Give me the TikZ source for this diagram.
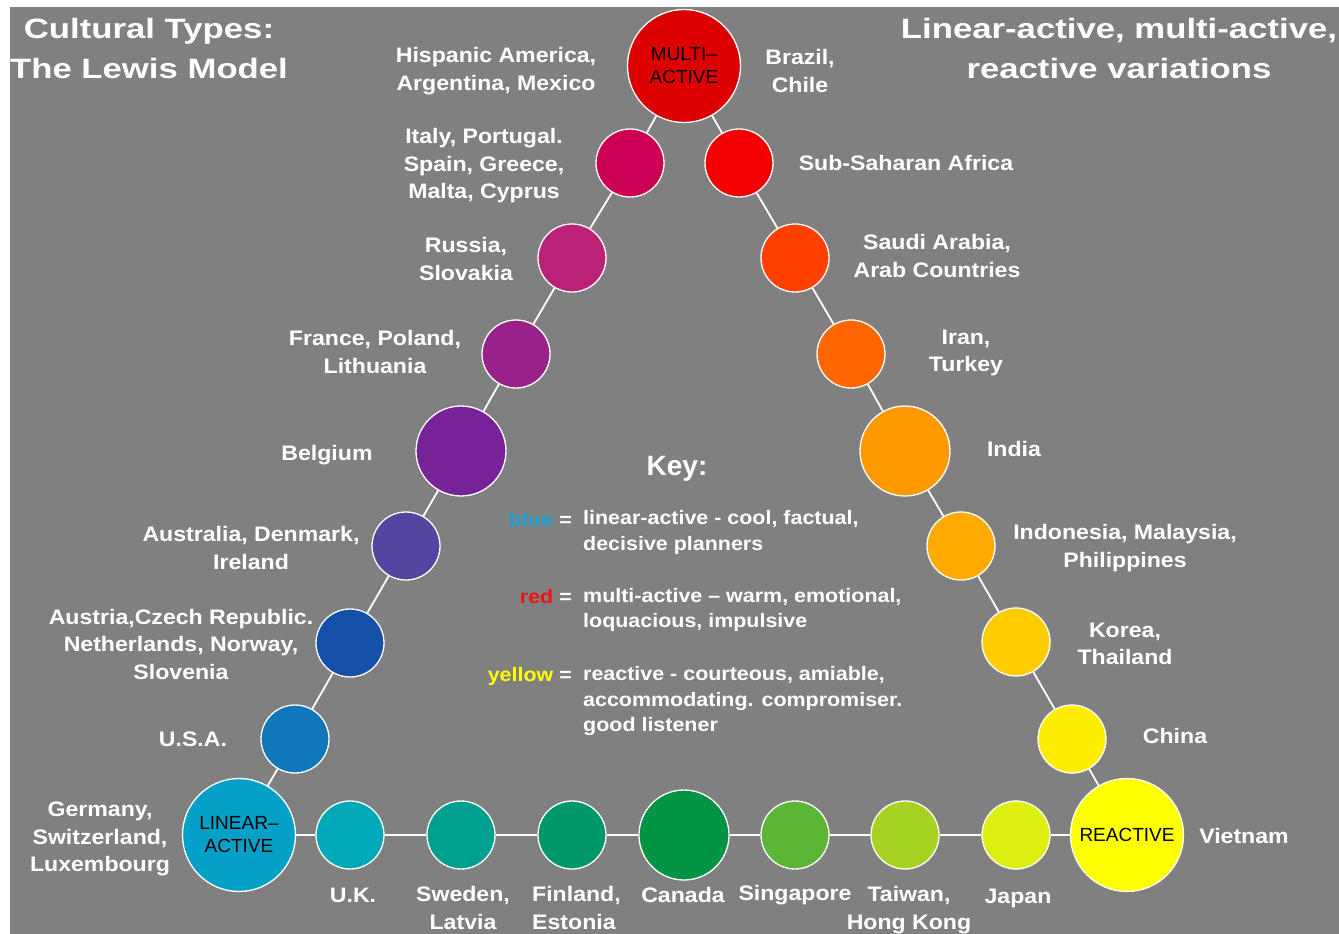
\documentclass[tikz,border=0pt]{standalone}
\usepackage{fontspec}
\setmainfont{Liberation Sans}
\newfontfamily\labfont[FakeStretch=1.1]{Liberation Sans}
\newfontfamily\titfont[FakeStretch=1.24]{Liberation Sans}
\newfontfamily\keyfont[FakeStretch=1.0]{Liberation Sans}
\definecolor{bggray}{HTML}{808080}
\definecolor{cMulti}{HTML}{DD0000}
\definecolor{cItaly}{HTML}{CC0055}
\definecolor{cSubSah}{HTML}{F50000}
\definecolor{cRussia}{HTML}{BB2277}
\definecolor{cSaudi}{HTML}{FF4000}
\definecolor{cFrance}{HTML}{992288}
\definecolor{cIran}{HTML}{FF6600}
\definecolor{cBelgium}{HTML}{772299}
\definecolor{cIndia}{HTML}{FF9900}
\definecolor{cAustralia}{HTML}{5544A0}
\definecolor{cIndonesia}{HTML}{FFAA00}
\definecolor{cAustria}{HTML}{1450A8}
\definecolor{cKorea}{HTML}{FFCC00}
\definecolor{cUSA}{HTML}{1077BB}
\definecolor{cChina}{HTML}{FFEE00}
\definecolor{cLinear}{HTML}{05A0C8}
\definecolor{cUK}{HTML}{00A8B8}
\definecolor{cSweden}{HTML}{00A090}
\definecolor{cFinland}{HTML}{00986A}
\definecolor{cCanada}{HTML}{009444}
\definecolor{cSingapore}{HTML}{5DB535}
\definecolor{cTaiwan}{HTML}{A6D322}
\definecolor{cJapan}{HTML}{DDEE11}
\definecolor{cReactive}{HTML}{FFFF00}
\definecolor{keyblue}{HTML}{1AA0D0}
\definecolor{keyred}{HTML}{EE1111}
\definecolor{keyyellow}{HTML}{FFFF00}
\begin{document}
\begin{tikzpicture}[x=1pt,y=-1pt,
  dot/.style={circle,draw=white,line width=1.3pt,inner sep=0pt,minimum size=68pt},
  middot/.style={dot,minimum size=90pt},
  bigdot/.style={dot,minimum size=113pt},
  lab/.style={text=white,align=center,inner sep=0pt,yshift=-2pt,font=\labfont\bfseries\fontsize{21}{27.5}\selectfont},
  tit/.style={text=white,align=center,inner sep=0pt,font=\titfont\bfseries\fontsize{28}{40}\selectfont},
  ctext/.style={font=\fontsize{19}{23}\selectfont,text=black,align=center},
  keytxt/.style={text=white,align=left,inner sep=0pt,yshift=-2pt,font=\labfont\bfseries\fontsize{19.5}{25.5}\selectfont},
  keyhead/.style={text=white,inner sep=0pt,yshift=-1pt,font=\keyfont\bfseries\fontsize{28}{32}\selectfont},
  link/.style={draw=white,line width=1.8pt}]
\useasboundingbox (0,0) rectangle (1339,934);
\fill[white] (0,0) rectangle (1339,934);
\fill[bggray] (10,7) rectangle (1339,934);

% circles
\node[bigdot,fill=cMulti,ctext] (m) at (684,66) {MULTI–\\ACTIVE};
\node[dot,fill=cItaly] (it) at (630,163) {};
\node[dot,fill=cSubSah] (ss) at (739,163) {};
\node[dot,fill=cRussia] (ru) at (572,258) {};
\node[dot,fill=cSaudi] (sa) at (795,258) {};
\node[dot,fill=cFrance] (fr) at (516,354) {};
\node[dot,fill=cIran] (ir) at (851,354) {};
\node[middot,fill=cBelgium] (be) at (461,451) {};
\node[middot,fill=cIndia] (in) at (905,451) {};
\node[dot,fill=cAustralia] (au) at (406,546) {};
\node[dot,fill=cIndonesia] (id) at (961,546) {};
\node[dot,fill=cAustria] (at) at (350,643) {};
\node[dot,fill=cKorea] (ko) at (1016,642) {};
\node[dot,fill=cUSA] (us) at (295,739) {};
\node[dot,fill=cChina] (cn) at (1072,739) {};
\node[bigdot,fill=cLinear,ctext] (la) at (239,835) {LINEAR–\\ACTIVE};
\node[bigdot,fill=cReactive,ctext] (re) at (1127,835) {REACTIVE};
\node[dot,fill=cUK] (uk) at (350,835) {};
\node[dot,fill=cSweden] (sw) at (461,835) {};
\node[dot,fill=cFinland] (fi) at (572,835) {};
\node[middot,fill=cCanada] (ca) at (684,835) {};
\node[dot,fill=cSingapore] (sg) at (795,835) {};
\node[dot,fill=cTaiwan] (tw) at (905,835) {};
\node[dot,fill=cJapan] (jp) at (1016,835) {};

% connectors
\foreach \a/\b in {m/it,it/ru,ru/fr,fr/be,be/au,au/at,at/us,us/la,la/uk,uk/sw,sw/fi,fi/ca,ca/sg,sg/tw,tw/jp,jp/re,re/cn,cn/ko,ko/id,id/in,in/ir,ir/sa,sa/ss,ss/m}
  \draw[link] (\a) -- (\b);

% titles
\node[tit] (t1) at (149,48) {Cultural Types:\\The Lewis Model};
\node[tit] (t2) at (1119,48) {Linear-active, multi-active,\\reactive variations};

% country labels
\node[lab] (l1) at (496,69) {Hispanic America,\\Argentina, Mexico};
\node[lab] (l2) at (800,69) {Brazil,\\Chile};
\node[lab] (l3) at (484,164) {Italy, Portugal.\\Spain, Greece,\\Malta, Cyprus};
\node[lab] (l4) at (906,161) {Sub-Saharan Africa};
\node[lab] (l5) at (466,257) {Russia,\\Slovakia};
\node[lab] (l6) at (937,254) {Saudi Arabia,\\Arab Countries};
\node[lab] (l7) at (375,350) {France, Poland,\\Lithuania};
\node[lab] (l8) at (966,351) {Iran,\\Turkey};
\node[lab] (l9) at (327,453) {Belgium};
\node[lab] (l10) at (1014,447) {India};
\node[lab] (l11) at (251,546) {Australia, Denmark,\\Ireland};
\node[lab] (l12) at (1125,546) {Indonesia, Malaysia,\\Philippines};
\node[lab] (l13) at (181,642) {Austria,Czech Republic.\\Netherlands, Norway,\\Slovenia};
\node[lab] (l14) at (1125,642) {Korea,\\Thailand};
\node[lab] (l15) at (193,737) {U.S.A.};
\node[lab] (l16) at (1175,734) {China};
\node[lab] (l17) at (100,837) {Germany,\\Switzerland,\\Luxembourg};
\node[lab] (l18) at (1244,834) {Vietnam};
\node[lab] (l19) at (353,893) {U.K.};
\node[lab] (l20) at (463,906) {Sweden,\\Latvia};
\node[lab,align=left,anchor=west] (l21) at (532,906) {Finland,\\Estonia};
\node[lab] (l22) at (683,893) {Canada};
\node[lab] (l23) at (795,893) {Singapore};
\node[lab] (l24) at (909,908) {Taiwan,\\Hong Kong};
\node[lab] (l25) at (1018,896) {Japan};

% key
\node[keyhead] (key) at (677,468) {Key:};
\node[keytxt,anchor=east] (kb) at (572,518) {\textcolor{keyblue}{blue} =};
\node[keytxt,anchor=west] (kbt) at (583,530.5) {linear-active - cool, factual,\\decisive planners};
\node[keytxt,anchor=east] (kr) at (572,595) {\textcolor{keyred}{red} =};
\node[keytxt,anchor=west] (krt) at (583,608) {multi-active – warm, emotional,\\loquacious, impulsive};
\node[keytxt,anchor=east] (ky) at (572,674) {\textcolor{keyyellow}{yellow} =};
\node[keytxt,anchor=west] (kyt) at (583,699) {reactive - courteous, amiable,\\accommodating. compromiser.\\good listener};
\end{tikzpicture}
\end{document}
